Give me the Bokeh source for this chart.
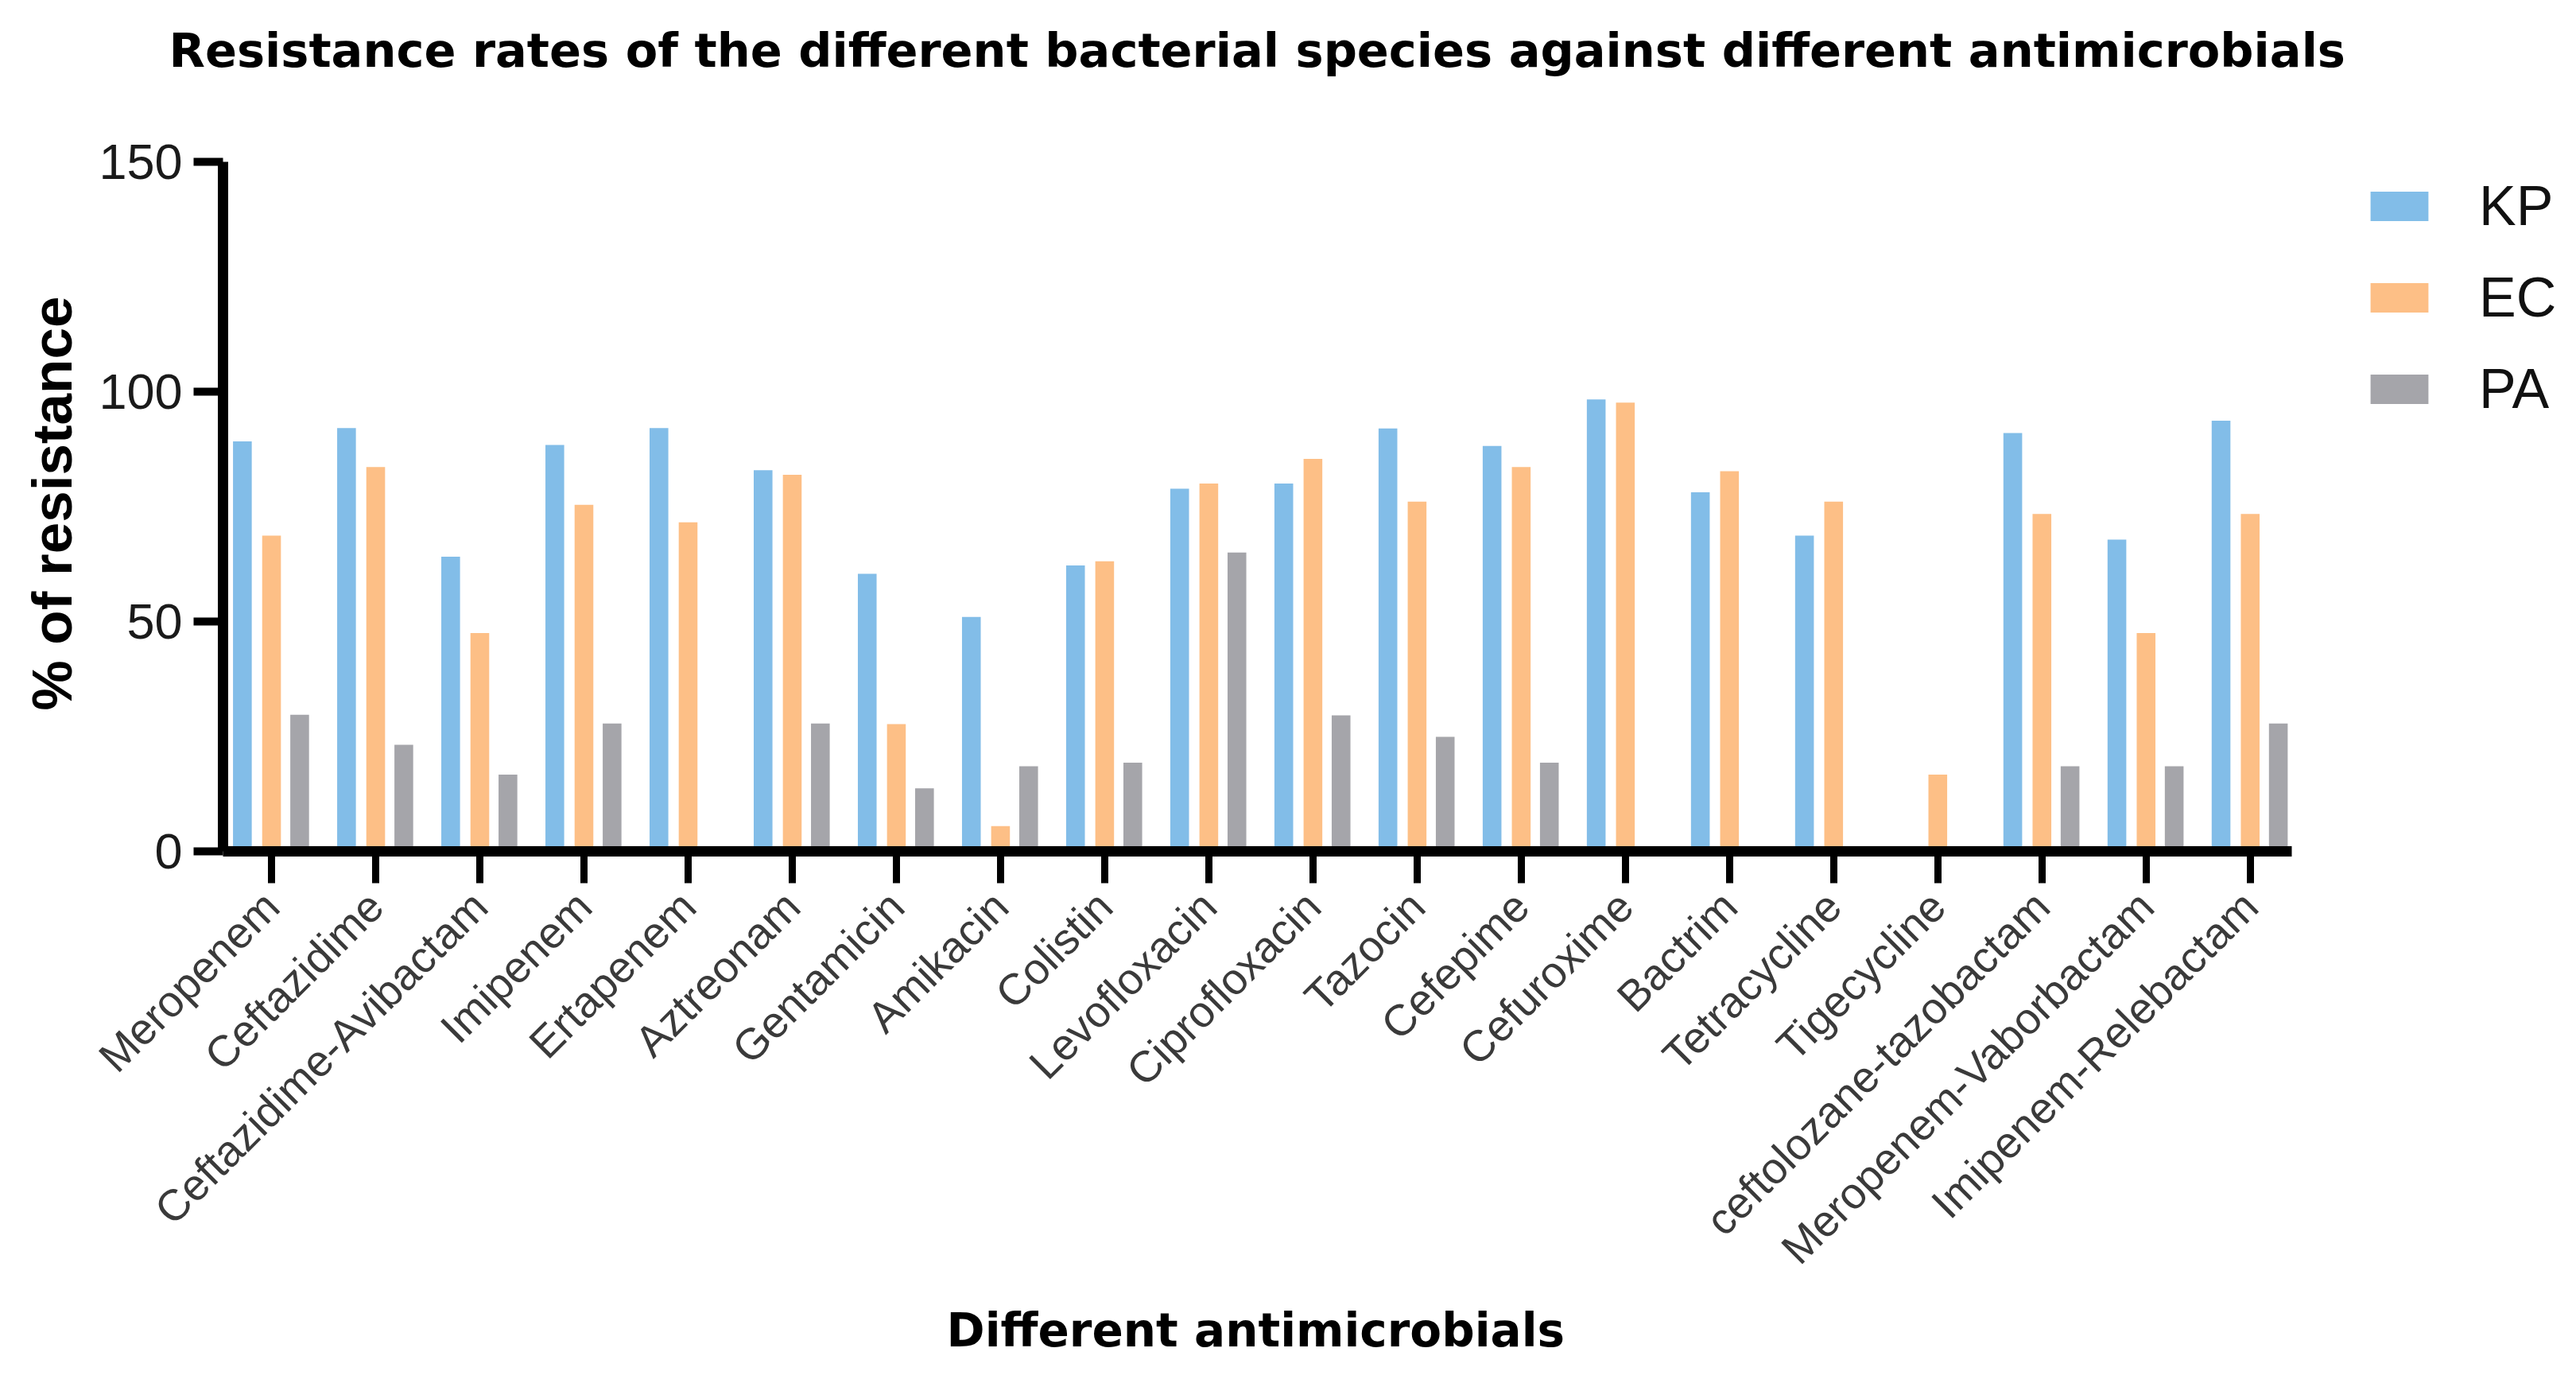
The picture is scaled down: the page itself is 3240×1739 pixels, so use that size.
import math
from bokeh.plotting import figure
from bokeh.models import (ColumnDataSource, Range1d, FixedTicker, Legend, LegendItem, Title)
from bokeh.transform import dodge
from bokeh.embed import file_html
from bokeh.resources import INLINE

categories = ["Meropenem", "Ceftazidime", "Ceftazidime-Avibactam", "Imipenem", "Ertapenem",
              "Aztreonam", "Gentamicin", "Amikacin", "Colistin", "Levofloxacin",
              "Ciprofloxacin", "Tazocin", "Cefepime", "Cefuroxime", "Bactrim",
              "Tetracycline", "Tigecycline", "ceftolozane-tazobactam",
              "Meropenem-Vaborbactam", "Imipenem-Relebactam"]
kp = [89.2, 92.1, 64.1, 88.4, 92.1, 82.9, 60.4, 51.0, 62.2, 78.9,
      80.0, 92.0, 88.2, 98.3, 78.1, 68.7, 0, 91.0, 67.8, 93.7]
ec = [68.7, 83.6, 47.5, 75.4, 71.6, 81.9, 27.7, 5.5, 63.1, 80.0,
      85.4, 76.1, 83.6, 97.6, 82.7, 76.1, 16.7, 73.4, 47.5, 73.4]
pa = [29.7, 23.2, 16.7, 27.8, 0, 27.8, 13.7, 18.5, 19.3, 65.0,
      29.6, 24.9, 19.3, 0, 0, 0, 0, 18.5, 18.5, 27.8]
series_names = ["KP", "EC", "PA"]
y_ticks = [0, 50, 100, 150]

colors = {"KP": "#82BDE8", "EC": "#FDBF86", "PA": "#A5A5AA"}

idx = list(range(len(categories)))
source = ColumnDataSource(dict(x=idx, KP=kp, EC=ec, PA=pa))

W, H = 3224, 1723
# frame spans to the right edge so the legend can sit inside it; axis lines limited by bounds
x_start, x_axis_end, x_end = -0.466, len(categories) - 1 + 0.40, 22.01
y_axis_end, y_end = 150, 164.36

p = figure(width=W, height=H, output_backend="svg", toolbar_location=None,
           x_range=Range1d(x_start, x_end),
           y_range=Range1d(0, y_end),
           min_border_left=280, min_border_right=0,
           min_border_top=120, min_border_bottom=653)
p.outline_line_color = None
p.xgrid.visible = False
p.ygrid.visible = False
p.background_fill_color = "white"
p.border_fill_color = "white"

p.title = Title(text="Resistance rates of the different bacterial species against different antimicrobials",
                align="left", offset=-68, text_font="DejaVu Sans", text_font_style="bold",
                text_font_size="59px", text_color="#000000", standoff=46)

offsets = {"KP": -0.28, "EC": 0.0, "PA": 0.27}
renderers = {}
for name in series_names:
    r = p.vbar(x=dodge("x", offsets[name], range=p.x_range), top=name, width=0.18,
               bottom=0, source=source, fill_color=colors[name], line_color=None)
    renderers[name] = r

# axes
xa = p.xaxis[0]
xa.bounds = (x_start, x_axis_end)
xa.ticker = FixedTicker(ticks=idx)
xa.major_label_overrides = {i: c for i, c in enumerate(categories)}
xa.major_label_orientation = math.pi / 4
xa.major_label_text_font = "Liberation Sans"
xa.major_label_text_font_size = "55px"
xa.major_label_text_color = "#3a3a3a"
xa.major_label_standoff = 20
xa.axis_line_width = 13
xa.axis_line_color = "black"
xa.major_tick_line_width = 9
xa.major_tick_line_color = "black"
xa.major_tick_out = 40
xa.major_tick_in = 0
xa.minor_tick_line_color = None

ya = p.yaxis[0]
ya.bounds = (0, y_axis_end)
ya.ticker = FixedTicker(ticks=y_ticks)
ya.major_label_text_font = "Liberation Sans"
ya.major_label_text_font_size = "63px"
ya.major_label_text_color = "#1a1a1a"
ya.major_label_standoff = 14
ya.axis_line_width = 13
ya.axis_line_color = "black"
ya.major_tick_line_width = 10
ya.major_tick_line_color = "black"
ya.major_tick_out = 37
ya.major_tick_in = 0
ya.minor_tick_line_color = None

# axis titles (as side titles so they can be placed like the reference)
p.add_layout(Title(text="%  of resistance", align="left", offset=177,
                   text_font="Liberation Sans", text_font_style="bold",
                   text_font_size="71px", text_color="#000000", standoff=34), "left")
p.add_layout(Title(text="Different antimicrobials", align="left", offset=910,
                   text_font="DejaVu Sans", text_font_style="bold",
                   text_font_size="58px", text_color="#000000", standoff=20), "below")

legend = Legend(items=[LegendItem(label=n, renderers=[renderers[n]]) for n in series_names],
                location=(2692, 541), orientation="vertical",
                glyph_width=91, glyph_height=46, label_height=46,
                label_standoff=55, spacing=35, padding=0, margin=0,
                label_text_font="Liberation Sans", label_text_font_size="70px",
                label_text_color="#111111",
                border_line_color=None, background_fill_alpha=0)
p.add_layout(legend)

open("out.html", "w").write(file_html(p, INLINE))
